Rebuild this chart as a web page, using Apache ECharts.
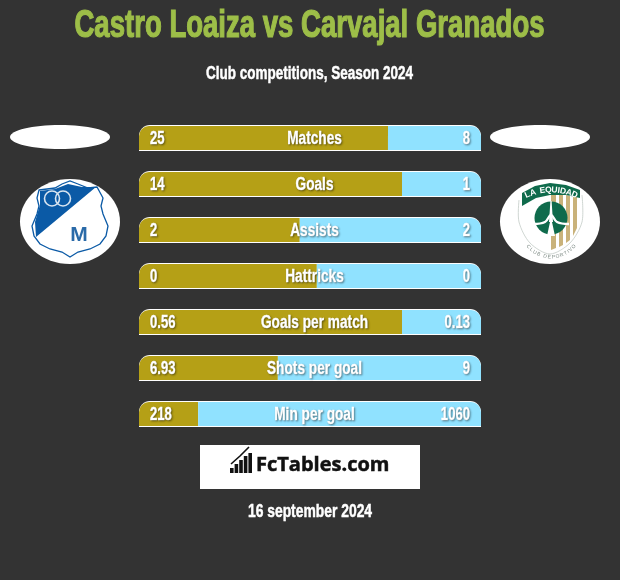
<!DOCTYPE html>
<html><head><meta charset="utf-8">
<style>html,body{margin:0;padding:0;background:#333333}#c{width:620px;height:580px}</style>
<script src="https://cdn.jsdelivr.net/npm/echarts@6/dist/echarts.min.js"></script>
</head><body><div id="c"></div>
<script>
const categories = ['Matches','Goals','Assists','Hattricks','Goals per match','Shots per goal','Min per goal'];
const leftLabels = ['25','14','2','0','0.56','6.93','218'];
const rightLabels = ['8','1','2','0','0.13','9','1060'];
const leftShare = [72.8,76.9,47,52,76.9,40.6,17.3];
const rightShare = [27.2,23.1,53,48,23.1,59.4,82.7];
const fullBar = [100,100,100,100,100,100,100];
const titleText = 'Castro Loaiza vs Carvajal Granados';
const subtitleText = 'Club competitions, Season 2024';
const dateText = '16 september 2024';
const brandText = 'FcTables.com';

const FONT = '"Liberation Sans",sans-serif';
const BLUE='#0b5aa6', GREEN='#0f6b4c', GOLD='#c9b27a';

function squeezed(text,x,y,size,scaleX,fill,align,weight,withShadow){
  const style={text,fill,stroke:fill,lineWidth:weight,font:'bold '+size+'px '+FONT,align:align||'center',verticalAlign:'middle'};
  if(withShadow){Object.assign(style,{textShadowColor:'rgba(0,0,0,0.4)',textShadowBlur:2,textShadowOffsetX:1,textShadowOffsetY:1});}
  return {type:'text',x,y,scaleX,originX:0,originY:0,style};
}
function crestLeft(){
  const shield=[[39,190],[55,188],[62,184],[70,181],[78,184],[88,188],[97,187],[103,198],[101,206],[103,214],[108,226],[106,236],[100,244],[90,249],[78,252],[70,257],[62,252],[50,249],[40,244],[34,236],[32,226],[37,214],[39,206],[37,198]];
  return [
    {type:'ellipse',shape:{cx:70,cy:221.5,rx:50,ry:42.5},style:{fill:'#fff'}},
    {type:'polygon',shape:{points:shield},style:{fill:'none',stroke:BLUE,lineWidth:1.3}},
    {type:'polygon',shape:{points:[[40,191],[55,189],[68,184],[82,187],[96,187],[36,237],[35,222],[40,205]]},style:{fill:BLUE}},
    {type:'circle',shape:{cx:52,cy:198.5,r:7.5},style:{fill:'none',stroke:'#d8e4f0',lineWidth:1.6}},
    {type:'circle',shape:{cx:63,cy:198.5,r:7.5},style:{fill:'none',stroke:'#d8e4f0',lineWidth:1.6}},
    {type:'text',x:79,y:235,style:{text:'M',fill:'#2a6aa8',font:'bold 21px '+FONT,align:'center',verticalAlign:'middle'}}
  ];
}
function arcLetters(str,cx,cy,r,startDeg,totalDeg,font,fill,bottom){
  const w=ch=>ch==='I'?0.45:(ch===' '?0.6:1);
  const chars=str.split('');
  const sum=chars.reduce((s,c)=>s+w(c),0);
  let run=0;
  return chars.map(ch=>{
    const deg=startDeg+(run+w(ch)/2)/sum*totalDeg;
    run+=w(ch);
    const a=deg*Math.PI/180;
    return {type:'text',x:cx+r*Math.sin(a),y:bottom?cy+r*Math.cos(a):cy-r*Math.cos(a),rotation:bottom?a:-a,
      style:{text:ch,fill,font,align:'center',verticalAlign:'middle'}};
  });
}
function crestRight(){
  const items=[
    {type:'ellipse',shape:{cx:550,cy:221.5,rx:50,ry:42.5},style:{fill:'#fff'}},
    {type:'polyline',shape:{smooth:0.3,points:[[519,200],[519,222],[530,243],[550,254],[570,243],[582,222],[582,195]]},style:{fill:'none',stroke:'#c3ccc6',lineWidth:0.8}},
    {type:'polygon',shape:{points:[[551,195],[556,195],[556,248],[551,250]]},style:{fill:GOLD}},
    {type:'polygon',shape:{points:[[559,195],[563,195],[563,245],[559,247]]},style:{fill:GOLD}},
    {type:'polygon',shape:{points:[[566,195],[570,196],[570,240],[566,243]]},style:{fill:GOLD}},
    {type:'polygon',shape:{points:[[573,196],[577,197],[577,228],[573,236]]},style:{fill:GOLD}},
    {type:'polygon',shape:{points:[[522,193],[535,186],[550,183],[566,185],[580,190],[580,198],[566,195],[550,195],[536,198],[522,206]]},style:{fill:GREEN}},
    {type:'circle',shape:{cx:551,cy:218,r:16.5},style:{fill:GREEN}},
    {type:'polygon',shape:{points:[[550.4,201],[551.6,201],[553,222],[549,222]]},style:{fill:'#fff'}},
    {type:'polyline',shape:{smooth:0.4,points:[[533,224],[545,222],[551,215],[557,222],[569,224]]},style:{fill:'none',stroke:'#fff',lineWidth:2.4}},
    {type:'polygon',shape:{points:[[550,222],[552,222],[555,236],[547,236]]},style:{fill:'#fff'}}
  ];
  return items
    .concat(arcLetters('LA EQUIDAD',551,250,60,-26,52,'bold 8.5px '+FONT,'#fff',false))
    .concat(arcLetters('CLUB DEPORTIVO',551,227,30,-53,106,'5px '+FONT,'#7d8a84',true));
}
function brandMark(){
  const bars=[[230,468,3.6,5],[234.6,464,3.6,9],[239.2,460,3.6,13],[243.8,456,3.6,17],[248.4,453,3.6,20]];
  const items=bars.map(b=>({type:'rect',shape:{x:b[0],y:b[1],width:b[2],height:b[3]},style:{fill:'#111'}}));
  items.push({type:'polyline',shape:{points:[[231,464],[240,456],[249,447]]},style:{stroke:'#111',fill:'none',lineWidth:1.6}});
  return items;
}

const chart=echarts.init(document.getElementById('c'),null,{renderer:'canvas'});
chart.setOption({
  animation:false,
  backgroundColor:'#333333',
  grid:{left:139,top:115,width:342,height:322,containLabel:false},
  xAxis:{type:'value',min:0,max:100,show:false},
  yAxis:[
    {type:'category',inverse:true,data:categories,show:false},
    {type:'category',inverse:true,data:categories,show:false}
  ],
  series:[
    {type:'bar',yAxisIndex:1,data:fullBar,barWidth:26,silent:true,
      itemStyle:{color:'#ffffff',borderRadius:[11,11,0,0]},z:1},
    {type:'bar',stack:'share',data:leftShare,barWidth:24,silent:true,
      itemStyle:{color:'#b5a016',borderRadius:[10,0,0,0]},z:2},
    {type:'bar',stack:'share',data:rightShare,barWidth:24,silent:true,
      itemStyle:{color:'#90e2ff',borderRadius:[0,10,0,0]},z:2},
    {type:'custom',silent:true,z:5,clip:false,data:categories.map((c,i)=>[i]),
      encode:{y:0},
      renderItem:(params,api)=>{
        const i=api.value(0);
        const l=api.coord([0,i]), r=api.coord([100,i]), m=api.coord([50,i]);
        const y=l[1]+1;
        return {type:'group',children:[
          squeezed(leftLabels[i],l[0]+11,y,19,0.69,'#fff','left',0.5,true),
          squeezed(rightLabels[i],r[0]-11,y,19,0.69,'#fff','right',0.5,true),
          squeezed(categories[i],m[0]+4.5,y,19,0.72,'#fff','center',0.5,true)
        ]};
      }}
  ],
  graphic:{elements:[
    squeezed(titleText,309.5,27,38,0.725,'#9dbe48','center',1.2,false),
    squeezed(subtitleText,309.5,73.5,19,0.71,'#fff','center',0.5,false),
    {type:'ellipse',shape:{cx:60,cy:137,rx:50,ry:12},style:{fill:'#fff'}},
    {type:'ellipse',shape:{cx:540,cy:137,rx:50,ry:12},style:{fill:'#fff'}},
    ...crestLeft(),
    ...crestRight(),
    {type:'rect',shape:{x:200,y:445,width:220,height:44},style:{fill:'#fff'}},
    ...brandMark(),
    {type:'text',x:256,y:465,style:{text:brandText,fill:'#111',stroke:'#111',lineWidth:0.5,font:'bold 20px "Open Sans"',verticalAlign:'middle'}},
    squeezed(dateText,310,511.5,19,0.73,'#fff','center',0.5,false)
  ]}
});
</script></body></html>
